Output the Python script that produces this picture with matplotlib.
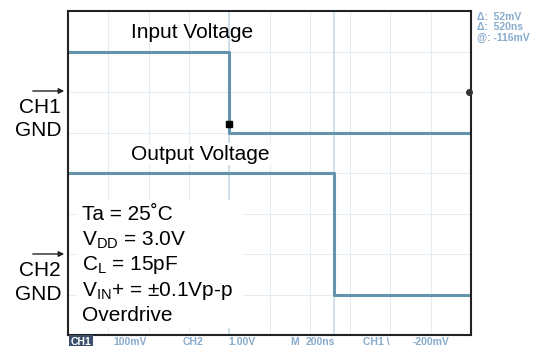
import matplotlib
matplotlib.use("Agg")
import matplotlib.pyplot as plt
from matplotlib.patches import FancyArrowPatch, Rectangle

plt.rcParams['font.family'] = ['Liberation Sans', 'DejaVu Sans']
plt.rcParams['mathtext.fontset'] = 'custom'
plt.rcParams['mathtext.rm'] = 'Liberation Sans'
plt.rcParams['mathtext.it'] = 'Liberation Sans'

# scope screen: 10 div x 200ns, 8 div vertical
t_in = [0, 800, 800, 2000]
v_in = [7.0, 7.0, 5.0, 5.0]      # CH1, 100mV/div
t_out = [0, 1320, 1320, 2000]
v_out = [4.0, 4.0, 1.0, 1.0]     # CH2, 1V/div

cond_lines = ['Ta = 25˚C', r'V$_{\mathrm{DD}}$ = 3.0V', r'C$_{\mathrm{L}}$ = 15pF',
              r'V$_{\mathrm{IN}}$+ = ±0.1Vp-p', 'Overdrive']
readout = ['Δ:  52mV', 'Δ:  520ns', '@: -116mV']
status_txt = ['100mV', 'CH2', '1.00V', 'M', '200ns', 'CH1 \\', '-200mV']
status_x = [113, 183, 228, 290, 306, 363, 413]

W, H = 547, 346
fig = plt.figure(figsize=(W / 100, H / 100), dpi=100)
ax = fig.add_axes([68 / W, 11 / H, 403 / W, 324 / H])
ax.set_xlim(0, 2000)
ax.set_ylim(0, 8)
ax.set_xticks([])
ax.set_yticks([])
for s in ax.spines.values():
    s.set_linewidth(1.5)
    s.set_color('#222222')

# faint graticule
gc = '#e4edf4'
for i in range(1, 10):
    ax.axvline(i * 200, color=gc, lw=0.8, zorder=0)
for j in range(1, 8):
    ax.axhline(j, color=gc, lw=0.8, zorder=0)
ax.axvline(800, color='#c8dbe8', lw=1.2, zorder=0)
ax.axvline(1320, color='#c8dbe8', lw=1.2, zorder=0)

tc = '#6394ab'
ax.plot(t_in, v_in, color=tc, lw=2.2, zorder=2)
ax.plot(t_out, v_out, color=tc, lw=2.2, zorder=2)
ax.plot([800], [5.2], marker='s', ms=5, color='black', zorder=3)
ax.plot([1990], [6.0], marker='o', ms=4, color='#333333', zorder=3, clip_on=False)

def px(x, y):
    return x / W, 1 - y / H

fs = 15
fig.text(*px(192, 32), 'Input Voltage', fontsize=fs, ha='center', va='center')
fig.text(*px(200, 154), 'Output Voltage', fontsize=fs, ha='center', va='center',
         bbox=dict(facecolor='white', edgecolor='none', pad=1))

# conditions box
fig.patches.append(Rectangle((77 / W, 1 - 328 / H), 166 / W, 128 / H,
                             transform=fig.transFigure, facecolor='white',
                             edgecolor='none', zorder=5))
for k, line in enumerate(cond_lines):
    fig.text(*px(82, 215 + 25.2 * k), line, fontsize=fs, ha='left', va='center', zorder=6)

# channel ground markers
for y0, name in [(91, 'CH1'), (254, 'CH2')]:
    fig.patches.append(FancyArrowPatch(px(30, y0), px(67, y0), transform=fig.transFigure,
                                       arrowstyle='-|>', mutation_scale=8, lw=1,
                                       color='#222222'))
    fig.text(*px(61, y0 + 17), name, fontsize=fs, ha='right', va='center')
    fig.text(*px(61, y0 + 40), 'GND', fontsize=fs, ha='right', va='center')

sc = '#86abcc'
for k, r in enumerate(readout):
    fig.text(*px(477, 17 + 10.5 * k), r, fontsize=7.5, color=sc,
             fontweight='bold', ha='left', va='center')
fig.text(*px(71, 342), 'CH1', fontsize=7.5, color='white', fontweight='bold',
         ha='left', va='center', bbox=dict(facecolor='#3a4f6a', edgecolor='none', pad=1.2))
for x0, s in zip(status_x, status_txt):
    fig.text(*px(x0, 342), s, fontsize=7.5, color=sc, fontweight='bold',
             ha='left', va='center')

fig.savefig('out.png', dpi=100)
